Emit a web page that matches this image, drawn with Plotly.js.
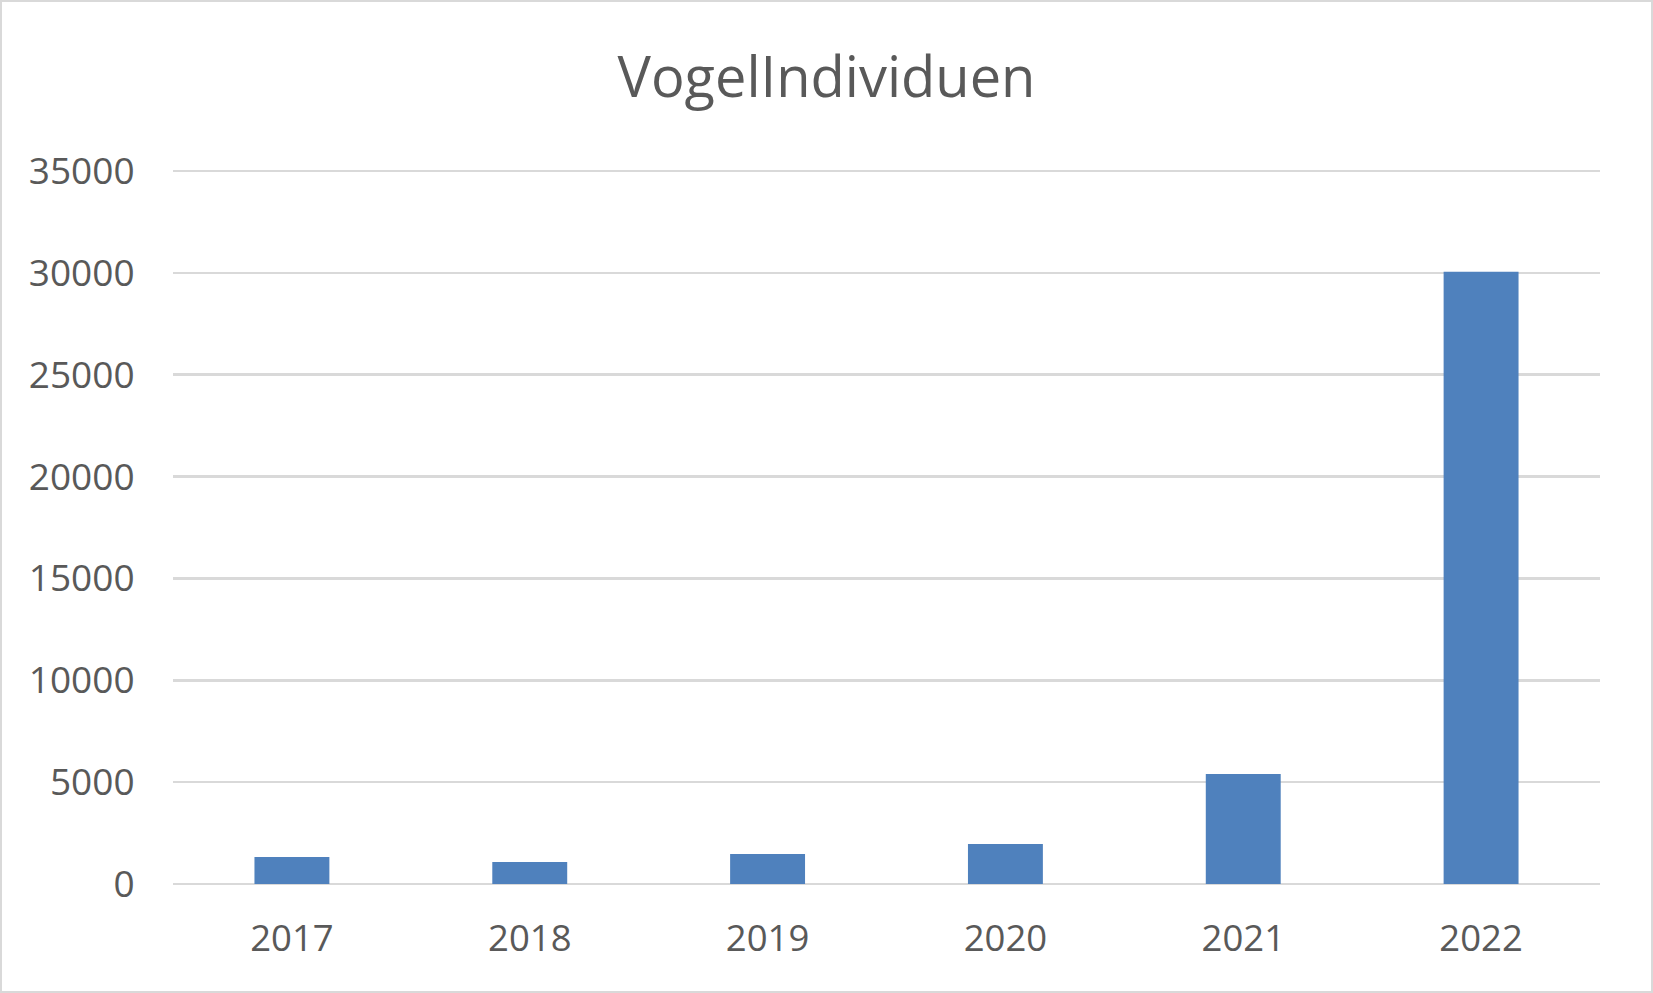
<!DOCTYPE html>
<html>
<head>
<meta charset="utf-8">
<script src="https://cdn.plot.ly/plotly-3.0.1.min.js"></script>
<style>
  html, body { margin: 0; padding: 0; background: #ffffff; }
  #chart { width: 1653px; height: 993px; box-sizing: border-box; border: 2px solid #d9d9d9; }
</style>
</head>
<body>
<div id="chart"></div>
<script>
const years = ['2017', '2018', '2019', '2020', '2021', '2022'];
const individuals = [1325, 1080, 1470, 1960, 5400, 30050];
const yTicks = [0, 5000, 10000, 15000, 20000, 25000, 30000, 35000];
const chartTitle = 'VogelIndividuen';

const trace = {
  type: 'bar',
  x: years,
  y: individuals,
  marker: { color: '#4f81bd' },
  hoverinfo: 'x+y'
};

const layout = {
  width: 1649,
  height: 989,
  paper_bgcolor: '#ffffff',
  plot_bgcolor: '#ffffff',
  margin: { l: 171, r: 51, t: 167, b: 107 },
  font: { family: '"Open Sans", "DejaVu Sans", sans-serif', color: '#595959' },
  title: {
    text: chartTitle,
    font: { size: 56, color: '#595959', family: '"Open Sans", sans-serif' },
    x: 0.5, xanchor: 'center',
    y: 0.924, yanchor: 'middle', yref: 'container'
  },
  bargap: 0.685,
  showlegend: false,
  xaxis: {
    type: 'category',
    showgrid: false,
    showline: false,
    zeroline: false,
    ticks: 'outside',
    ticklen: 22,
    tickcolor: 'rgba(0,0,0,0)',
    tickfont: { size: 36.5, color: '#595959' }
  },
  yaxis: {
    range: [0, 35100],
    tickvals: yTicks,
    ticktext: yTicks.map(String),
    showgrid: true,
    gridcolor: '#d9d9d9',
    gridwidth: 2.5,
    zeroline: true,
    zerolinecolor: '#d9d9d9',
    zerolinewidth: 2.5,
    showline: false,
    ticks: 'outside',
    ticklen: 30,
    tickcolor: 'rgba(0,0,0,0)',
    tickfont: { size: 37, color: '#595959' }
  }
};

Plotly.newPlot('chart', [trace], layout, { displayModeBar: false, staticPlot: true });
</script>
</body>
</html>
